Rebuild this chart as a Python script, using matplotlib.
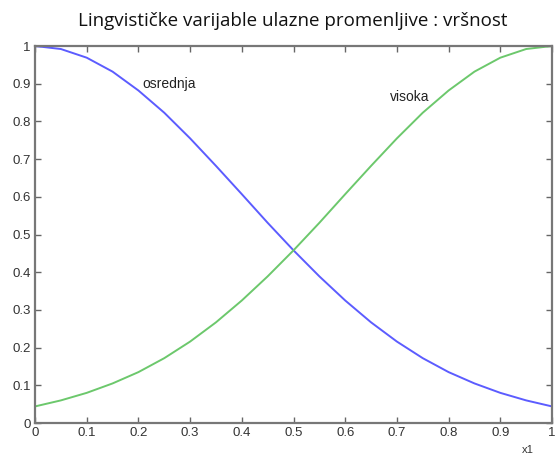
import matplotlib
matplotlib.use("Agg")
import matplotlib.pyplot as plt

# values (step 0.05)
x = [0.0, 0.05, 0.1, 0.15, 0.2, 0.25, 0.3, 0.35, 0.4, 0.45, 0.5,
     0.55, 0.6, 0.65, 0.7, 0.75, 0.8, 0.85, 0.9, 0.95, 1.0]
osrednja = [1.0, 0.992, 0.969, 0.932, 0.882, 0.823, 0.755, 0.682, 0.607, 0.531, 0.458,
            0.389, 0.325, 0.267, 0.216, 0.172, 0.135, 0.105, 0.080, 0.060, 0.044]
visoka = [0.044, 0.060, 0.080, 0.105, 0.135, 0.172, 0.216, 0.267, 0.325, 0.389, 0.458,
          0.531, 0.607, 0.682, 0.755, 0.823, 0.882, 0.932, 0.969, 0.992, 1.0]
xticks = [0, 0.1, 0.2, 0.3, 0.4, 0.5, 0.6, 0.7, 0.8, 0.9, 1]
xticklabels = ["0", "0.1", "0.2", "0.3", "0.4", "0.5", "0.6", "0.7", "0.8", "0.9", "1"]
yticks = [0, 0.1, 0.2, 0.3, 0.4, 0.5, 0.6, 0.7, 0.8, 0.9, 1]
yticklabels = ["0", "0.1", "0.2", "0.3", "0.4", "0.5", "0.6", "0.7", "0.8", "0.9", "1"]

fig = plt.figure(figsize=(5.55, 4.55), dpi=100, facecolor="white")
ax = fig.add_axes([0.0631, 0.0703, 0.9315, 0.8286])

ax.plot(x, osrednja, color="#5c5cff", lw=1.4)
ax.plot(x, visoka, color="#6cc86c", lw=1.4)

ax.text(0.207, 0.90, "osrednja", fontsize=10, family="Liberation Sans", color="#222222", va="center")
ax.text(0.687, 0.865, "visoka", fontsize=10, family="Liberation Sans", color="#222222", va="center")

ax.set_xlim(0, 1)
ax.set_ylim(0, 1)
ax.set_xticks(xticks)
ax.set_xticklabels(xticklabels)
ax.set_yticks(yticks)
ax.set_yticklabels(yticklabels)
ax.tick_params(direction="in", length=4, width=1, colors="#666666", labelcolor="#333333",
               labelsize=9.5, top=True, right=True, pad=3)
for lab in ax.get_xticklabels() + ax.get_yticklabels():
    lab.set_family("Liberation Sans")
for sp in ax.spines.values():
    sp.set_color("#777777")
    sp.set_linewidth(1.6)

fig.text(0.94, 0.004, "x1", fontsize=8, family="Liberation Sans", color="#333333")
fig.text(0.528, 0.954, "Lingvističke varijable ulazne promenljive : vršnost",
         fontsize=13.5, family="Open Sans", ha="center", va="center", color="#111111")

fig.savefig("out.png", dpi=100)
